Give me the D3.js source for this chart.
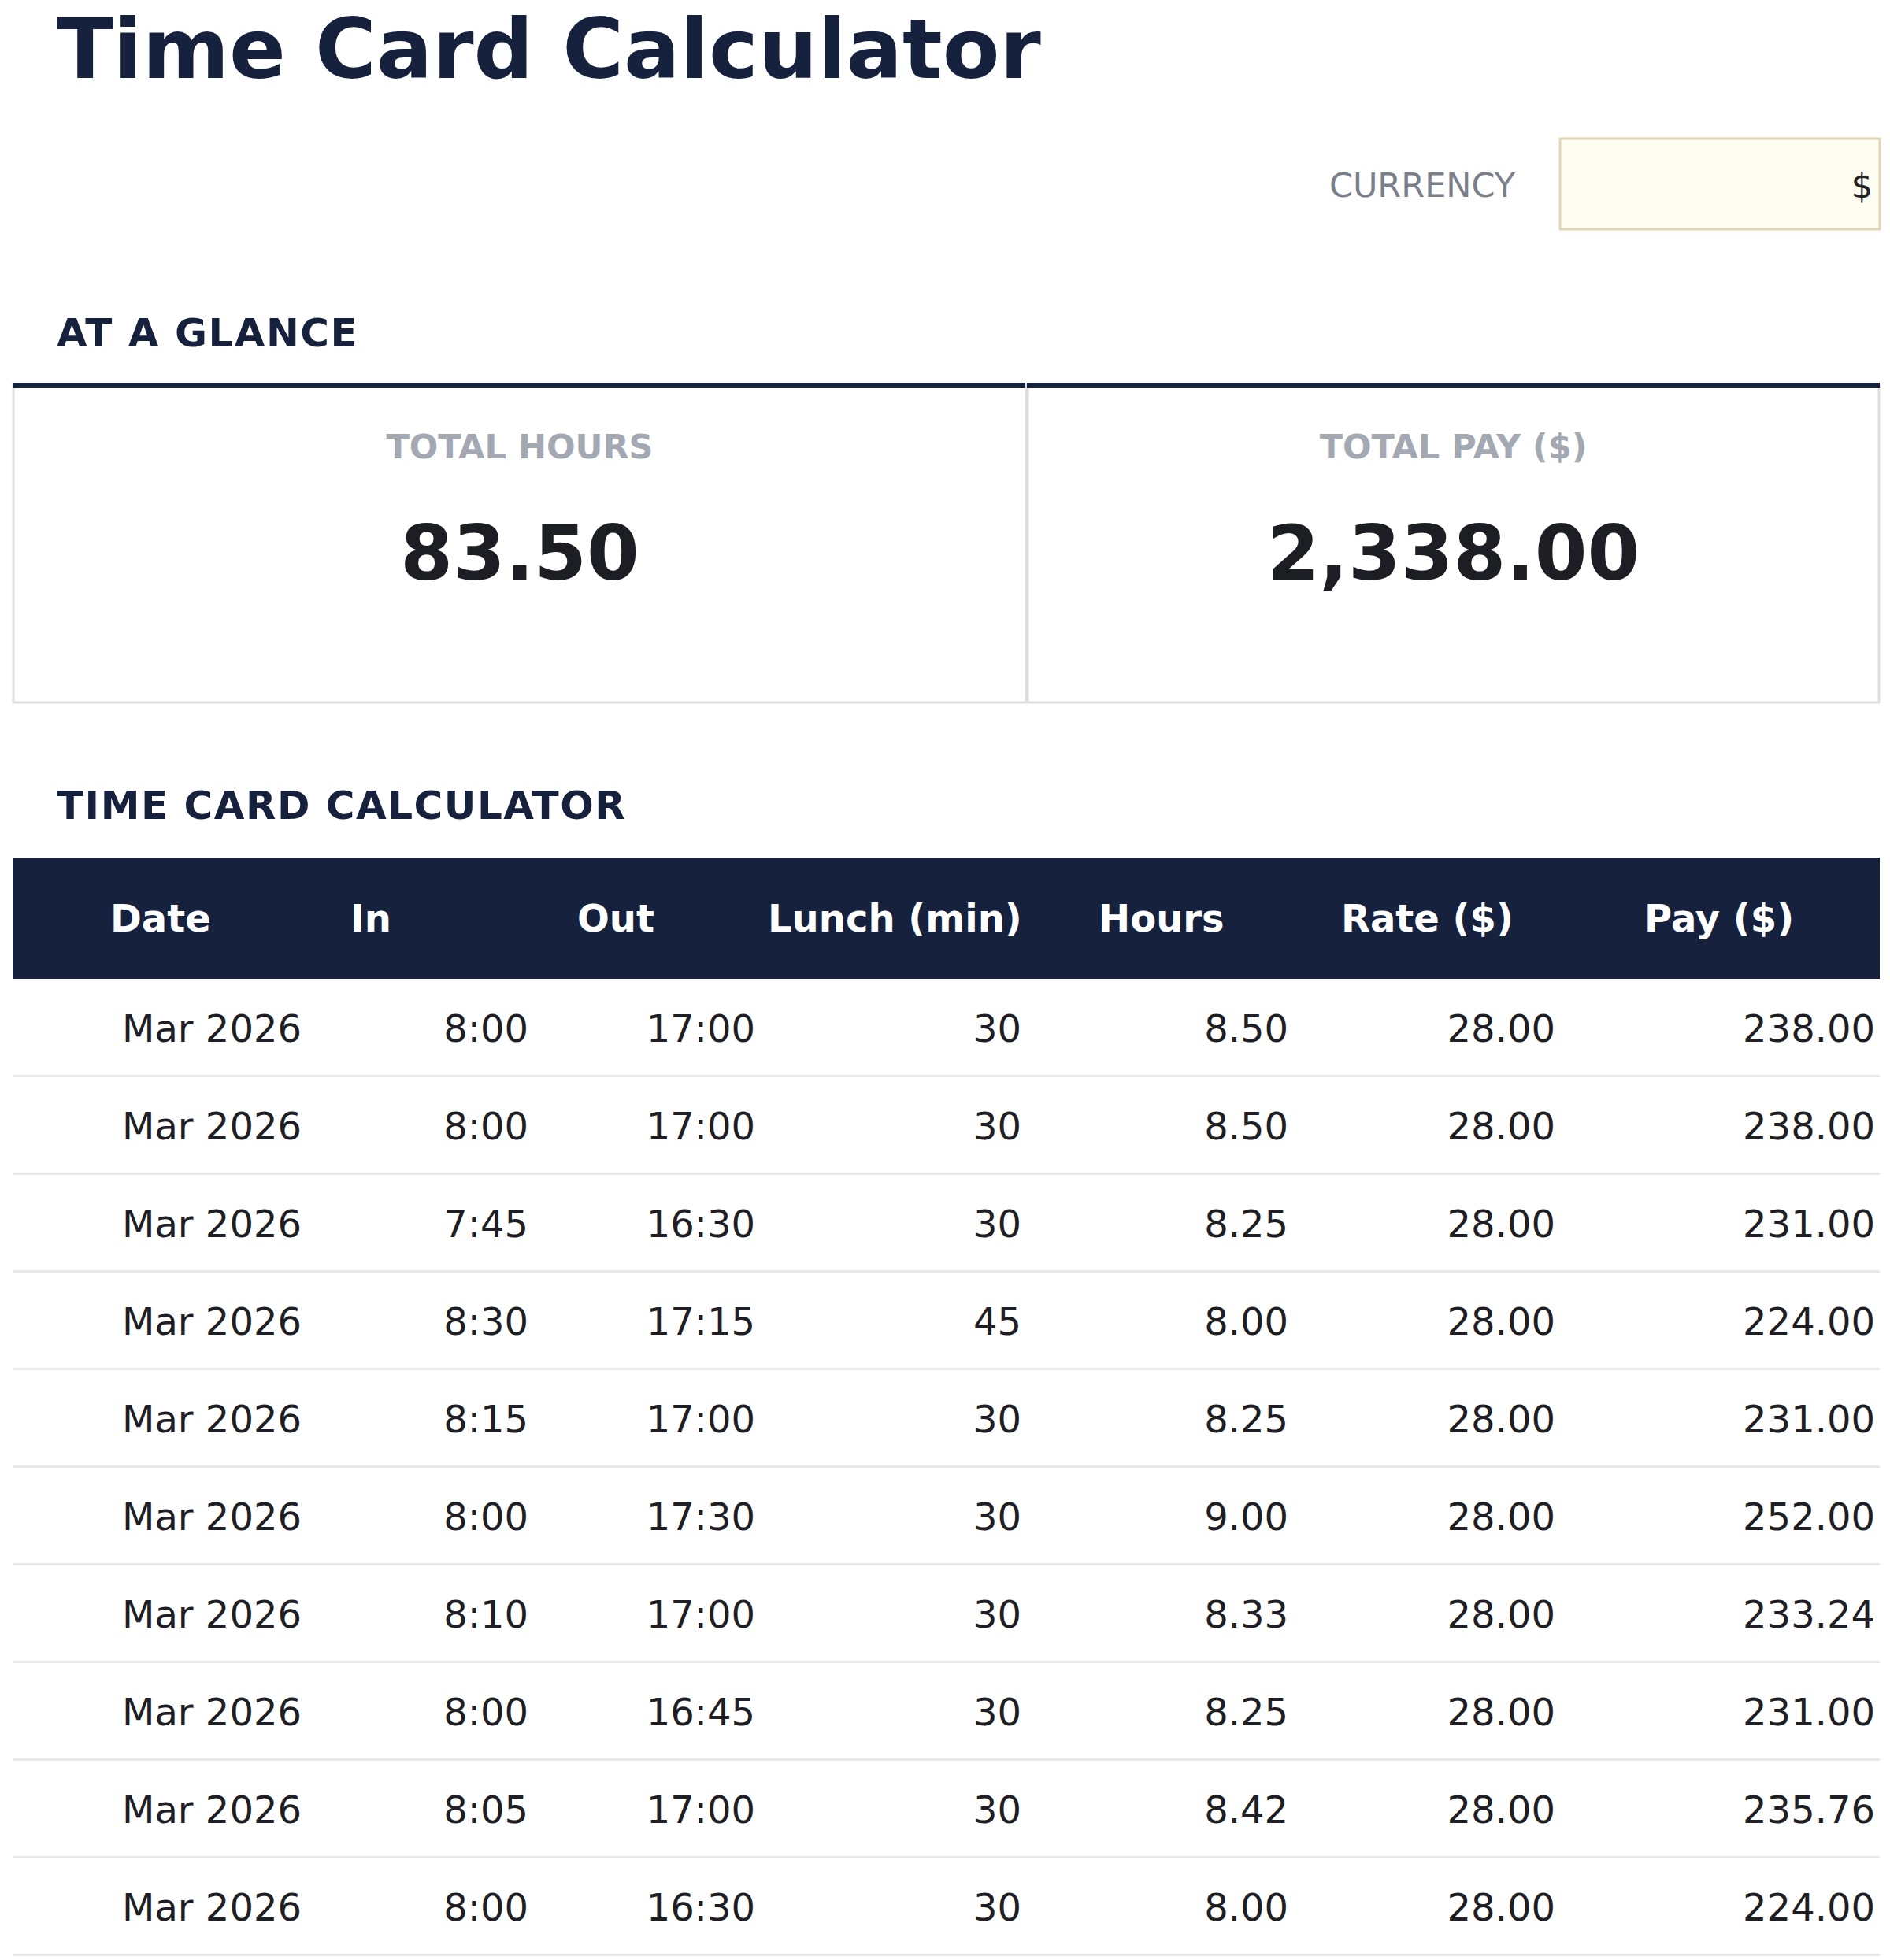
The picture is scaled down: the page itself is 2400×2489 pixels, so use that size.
<!DOCTYPE html>
<html><head><meta charset="utf-8">
<script src="https://cdn.jsdelivr.net/npm/d3@7"></script>
<style>body{margin:0;background:#fff}</style></head>
<body><svg id="c" width="2400" height="2489"></svg>
<script>
const columns = ["Date","In","Out","Lunch (min)","Hours","Rate ($)","Pay ($)"];
const dates = ["Mar 2026","Mar 2026","Mar 2026","Mar 2026","Mar 2026","Mar 2026","Mar 2026","Mar 2026","Mar 2026","Mar 2026"];
const timeIn = ["8:00","8:00","7:45","8:30","8:15","8:00","8:10","8:00","8:05","8:00"];
const timeOut = ["17:00","17:00","16:30","17:15","17:00","17:30","17:00","16:45","17:00","16:30"];
const lunch = [30,30,30,45,30,30,30,30,30,30];
const hours = [8.50,8.50,8.25,8.00,8.25,9.00,8.33,8.25,8.42,8.00];
const rate = [28,28,28,28,28,28,28,28,28,28];
const pay = [238.00,238.00,231.00,224.00,231.00,252.00,233.24,231.00,235.76,224.00];
const totalHours = 83.50, totalPay = 2338.00, currency = "$";

const svg = d3.select("#c");
const F = "DejaVu Sans, sans-serif";
const navy = "#16213d";
svg.append("text").attr("x",72).attr("y",99).attr("font-family",F).attr("font-weight","bold")
  .attr("font-size",106).attr("fill",navy).text("Time Card Calculator");
svg.append("text").attr("x",1924).attr("y",250).attr("text-anchor","end").attr("font-family",F)
  .attr("font-size",43).attr("fill","#7a7f8a").text("CURRENCY");
svg.append("rect").attr("x",1981).attr("y",176).attr("width",406).attr("height",115)
  .attr("fill","#fffcf2").attr("stroke","#e0d5b5").attr("stroke-width",3);
svg.append("text").attr("x",2378).attr("y",251).attr("text-anchor","end").attr("font-family",F)
  .attr("font-size",43).attr("fill","#222").text(currency);

svg.append("text").attr("x",72).attr("y",440).attr("font-family",F).attr("font-weight","bold")
  .attr("font-size",50).attr("letter-spacing",1.5).attr("fill",navy).text("AT A GLANCE");
const fmt2 = d3.format(",.2f");
const cards = [{l:"TOTAL HOURS",v:fmt2(totalHours),x0:16,x1:1304},{l:"TOTAL PAY ($)",v:fmt2(totalPay),x0:1304,x1:2387}];
cards.forEach(c=>{
  svg.append("rect").attr("x",c.x0+1).attr("y",488).attr("width",c.x1-c.x0-2).attr("height",404)
    .attr("fill","#fff").attr("stroke","#dedede").attr("stroke-width",3);
  svg.append("rect").attr("x",c.x0).attr("y",486).attr("width",c.x1-c.x0-(c.x0===16?2:0)).attr("height",7).attr("fill",navy);
  const cx=(c.x0+c.x1)/2;
  svg.append("text").attr("x",cx).attr("y",582).attr("text-anchor","middle").attr("font-family",F)
    .attr("font-weight","bold").attr("font-size",43).attr("fill","#a3a8b3").text(c.l);
  svg.append("text").attr("x",cx).attr("y",736).attr("text-anchor","middle").attr("font-family",F)
    .attr("font-weight","bold").attr("font-size",96).attr("fill","#1d1d24").text(c.v);
});

svg.append("text").attr("x",72).attr("y",1040).attr("font-family",F).attr("font-weight","bold")
  .attr("font-size",50).attr("letter-spacing",1.5).attr("fill",navy).text("TIME CARD CALCULATOR");
svg.append("rect").attr("x",16).attr("y",1089).attr("width",2371).attr("height",154).attr("fill",navy);
const headX = [140,445,733,975,1395,1703,2088];
columns.forEach((c,i)=>svg.append("text").attr("x",headX[i]).attr("y",1183).attr("font-family",F)
  .attr("font-weight","bold").attr("font-size",48).attr("fill","#fff").text(c));

const y = d3.scaleBand().domain(d3.range(dates.length)).range([1243,1243+124*dates.length]);
const dataX = [383,671,959,1297,1636,1975,2381];
const f2 = d3.format(".2f");
const rows = d3.range(dates.length).map(i=>[dates[i],timeIn[i],timeOut[i],String(lunch[i]),f2(hours[i]),f2(rate[i]),f2(pay[i])]);
rows.forEach((r,i)=>{
  const yb=y(i);
  r.forEach((v,j)=>svg.append("text").attr("x",dataX[j]).attr("y",yb+80).attr("text-anchor","end")
    .attr("font-family",F).attr("font-size",48).attr("fill","#1e1e24").text(v));
  svg.append("rect").attr("x",16).attr("y",yb+y.bandwidth()-2).attr("width",2371).attr("height",3).attr("fill","#e8e8ea");
});
</script></body></html>
